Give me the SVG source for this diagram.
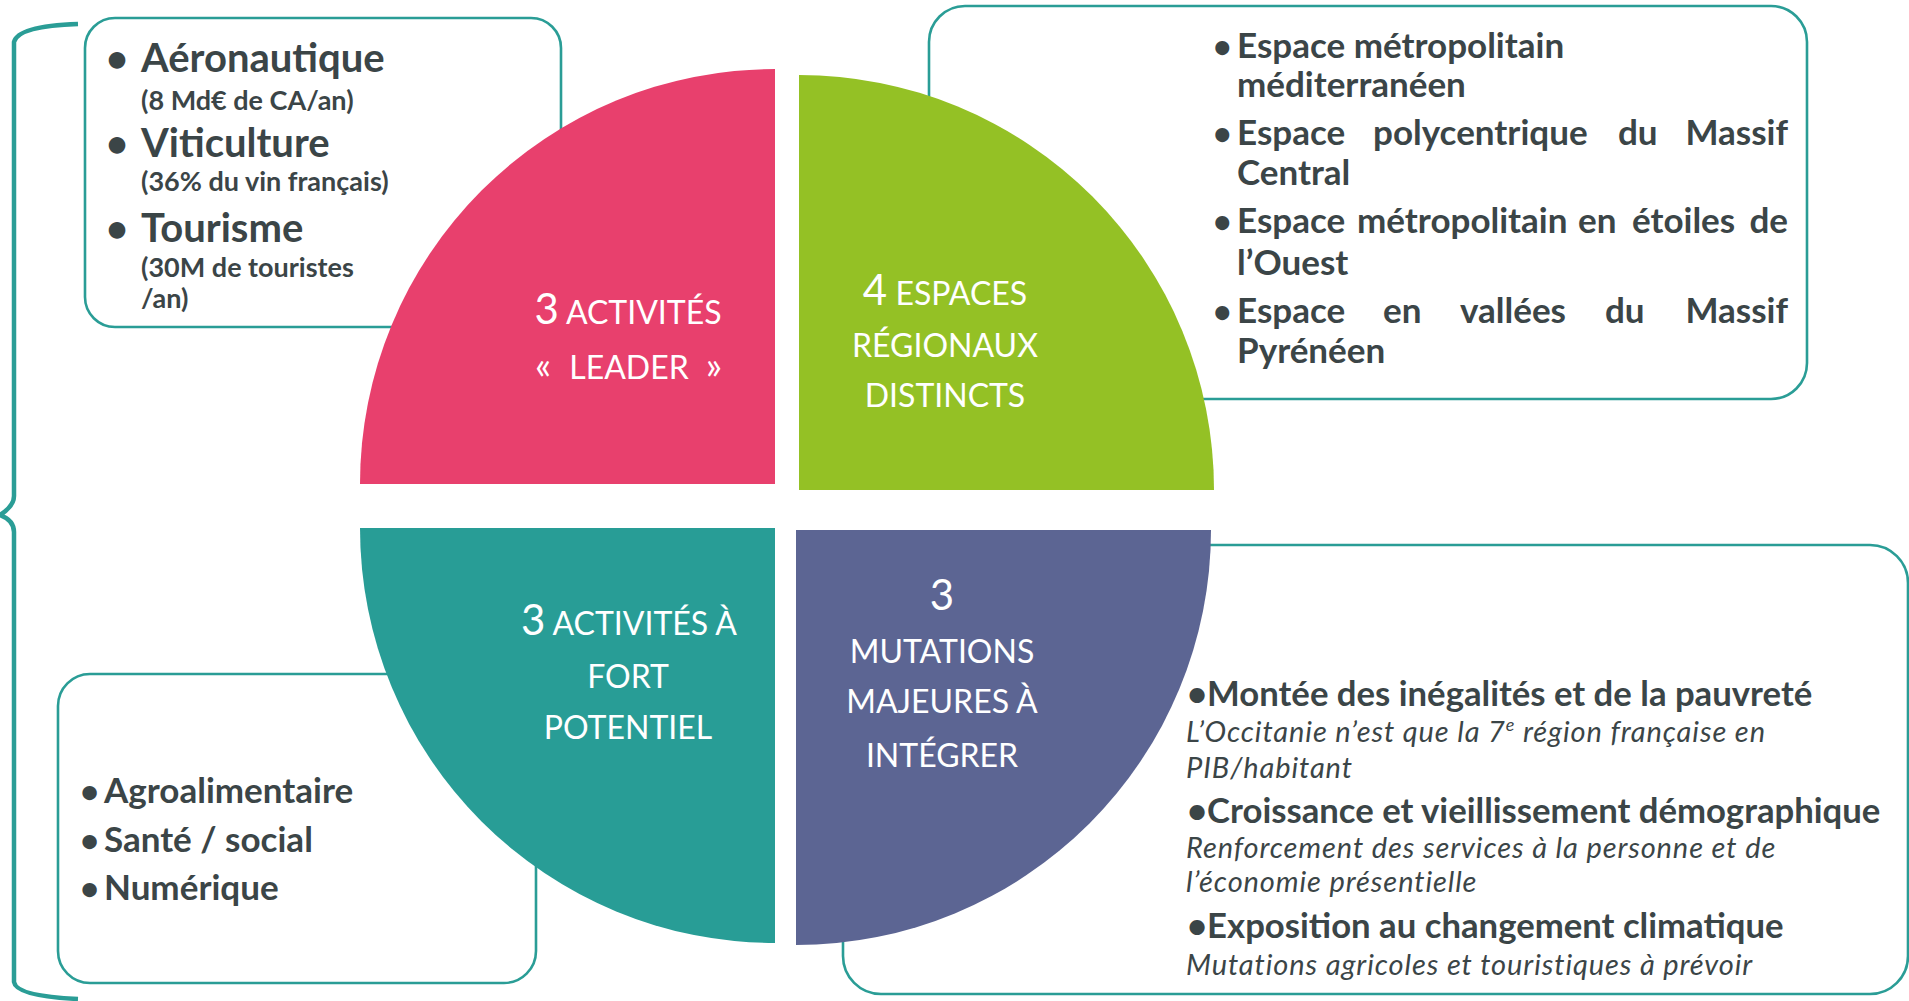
<svg xmlns="http://www.w3.org/2000/svg" width="1909" height="1001" viewBox="0 0 1909 1001">
<style>
.box{fill:#fff;stroke:#2A9D96;stroke-width:2.6}
.t{font-family:Lato,"Open Sans",sans-serif;fill:#3B4547;font-weight:bold}
.it{font-family:Lato,"Open Sans",sans-serif;fill:#3B4547;font-style:italic;font-size:29px;letter-spacing:0.9px}
.lbl{font-family:Lato,"Open Sans",sans-serif;fill:#fff;text-anchor:middle;font-size:32px}
.big{font-size:42px}
</style>
<rect width="1909" height="1001" fill="#fff"/>
<g id="connectors">
<path d="M78 24 Q18 26 14 42 L14 496 Q14 506 0 515 Q14 520 14 532 L14 982 Q16 996 78 999" fill="none" stroke="#2A9D96" stroke-width="4.5"/>
</g>
<g id="box-leader">
<rect class="box" x="85" y="18" width="476" height="309" rx="30"/>
<text class="t" font-size="38" x="106" y="72">•</text>
<text class="t" font-size="40" x="141" y="72">Aéronautique</text>
<text class="t" font-size="27" x="141" y="110">(8 Md€ de CA/an)</text>
<text class="t" font-size="38" x="106" y="157">•</text>
<text class="t" font-size="40" x="141" y="157">Viticulture</text>
<text class="t" font-size="27" x="141" y="191">(36% du vin français)</text>
<text class="t" font-size="38" x="106" y="242">•</text>
<text class="t" font-size="40" x="141" y="242">Tourisme</text>
<text class="t" font-size="27" x="141" y="277">(30M de touristes</text>
<text class="t" font-size="27" x="141" y="308">/an)</text>
</g>
<g id="box-espaces">
<rect class="box" x="929" y="6" width="878" height="393" rx="36"/>
<g class="t" font-size="35">
<text x="1213" y="58" font-size="32">•</text><text x="1237" y="58">Espace métropolitain</text>
<text x="1237" y="97">méditerranéen</text>
<text x="1213" y="145" font-size="32">•</text><text y="145"><tspan x="1237">Espace</tspan><tspan x="1373">polycentrique</tspan><tspan x="1618">du</tspan><tspan x="1788" text-anchor="end">Massif</tspan></text>
<text x="1237" y="185">Central</text>
<text x="1213" y="233" font-size="32">•</text><text y="233"><tspan x="1237">Espace</tspan><tspan x="1357">métropolitain</tspan><tspan x="1578">en</tspan><tspan x="1632">étoiles</tspan><tspan x="1788" text-anchor="end">de</tspan></text>
<text x="1237" y="275">l’Ouest</text>
<text x="1213" y="323" font-size="32">•</text><text y="323"><tspan x="1237">Espace</tspan><tspan x="1383">en</tspan><tspan x="1460">vallées</tspan><tspan x="1605">du</tspan><tspan x="1788" text-anchor="end">Massif</tspan></text>
<text x="1237" y="363">Pyrénéen</text>
</g>
</g>
<g id="box-potentiel">
<rect class="box" x="58" y="674" width="478" height="309" rx="32"/>
<g class="t" font-size="35">
<text x="80" y="803" font-size="33">•</text><text x="104" y="803">Agroalimentaire</text>
<text x="80" y="852" font-size="33">•</text><text x="104" y="852">Santé / social</text>
<text x="80" y="900" font-size="33">•</text><text x="104" y="900">Numérique</text>
</g>
</g>
<g id="box-mutations">
<rect class="box" x="843" y="545" width="1065" height="449" rx="38"/>
<text class="t" font-size="34.7" x="1187" y="706">•Montée des inégalités et de la pauvreté</text>
<text class="it" x="1186" y="742">L’Occitanie n’est que la 7<tspan font-size="18" baseline-shift="super">e</tspan> région française en</text>
<text class="it" x="1186" y="778">PIB/habitant</text>
<text class="t" font-size="34.7" x="1187" y="823">•Croissance et vieillissement démographique</text>
<text class="it" x="1186" y="858">Renforcement des services à la personne et de</text>
<text class="it" x="1186" y="892">l’économie présentielle</text>
<text class="t" font-size="34.7" x="1187" y="938">•Exposition au changement climatique</text>
<text class="it" x="1186" y="975">Mutations agricoles et touristiques à prévoir</text>
</g>
<g id="q-leader">
<path d="M775 484 L360 484 A415 415 0 0 1 775 69 Z" fill="#E8406D"/>
<text class="lbl" x="628" y="324"><tspan class="big">3</tspan> ACTIVITÉS</text>
<text class="lbl" y="379"><tspan x="535" text-anchor="start" font-size="38">«</tspan><tspan x="629">LEADER</tspan><tspan x="722" text-anchor="end" font-size="38">»</tspan></text>
</g>
<g id="q-espaces">
<path d="M799 490 L799 75 A415 415 0 0 1 1214 490 Z" fill="#94C125"/>
<text class="lbl" x="945" y="305"><tspan class="big">4</tspan> ESPACES</text>
<text class="lbl" x="945" y="357">RÉGIONAUX</text>
<text class="lbl" x="945" y="407">DISTINCTS</text>
</g>
<g id="q-potentiel">
<path d="M775 528 L775 943 A415 415 0 0 1 360 528 Z" fill="#289D96"/>
<text class="lbl" x="629" y="635"><tspan class="big">3</tspan> ACTIVITÉS À</text>
<text class="lbl" x="628" y="688">FORT</text>
<text class="lbl" x="628" y="739">POTENTIEL</text>
</g>
<g id="q-mutations">
<path d="M796 530 L1211 530 A415 415 0 0 1 796 945 Z" fill="#5C6593"/>
<text class="lbl big" x="942" y="610">3</text>
<text class="lbl" x="942" y="663">MUTATIONS</text>
<text class="lbl" x="942" y="713">MAJEURES À</text>
<text class="lbl" x="942" y="767">INTÉGRER</text>
</g>
</svg>
